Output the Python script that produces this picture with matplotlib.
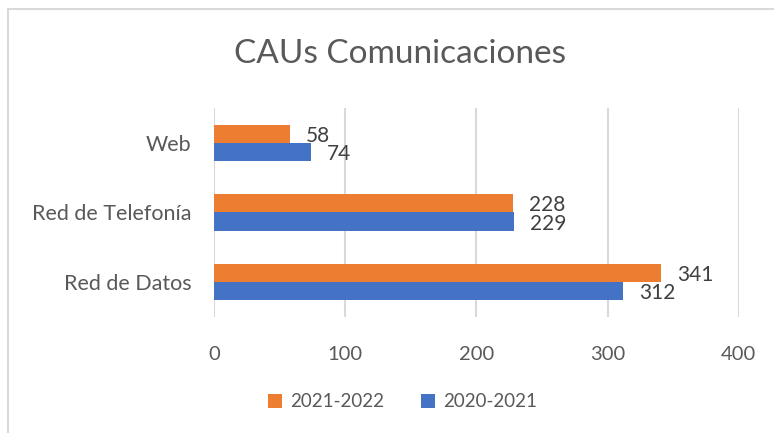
"""CAUs Comunicaciones: barras horizontales agrupadas por curso"""

import matplotlib

matplotlib.use("Agg")
import matplotlib.pyplot as plt
import numpy as np
from matplotlib.patches import Rectangle

categories = ["Red de Datos", "Red de Telefonía", "Web"]
series_2021_2022 = [341, 228, 58]
series_2020_2021 = [312, 229, 74]
legend_labels = ["2021-2022", "2020-2021"]
x_ticks = [0, 100, 200, 300, 400]

TEXT = "#595959"
ORANGE = "#ED7D31"
BLUE = "#4472C4"
GRID = "#D9D9D9"

plt.rcParams["font.family"] = ["Lato", "DejaVu Sans"]

fig = plt.figure(figsize=(7.74, 4.33), dpi=100)
ax = fig.add_axes([0.2765, 0.268, 0.678, 0.4826])

y = np.arange(len(categories))
height = 0.26
bars_new = ax.barh(y + height / 2, series_2021_2022, height=height, color=ORANGE, label=legend_labels[0], zorder=3)
bars_old = ax.barh(y - height / 2, series_2020_2021, height=height, color=BLUE, label=legend_labels[1], zorder=3)

for bars in (bars_new, bars_old):
    for bar in bars:
        value = bar.get_width()
        ax.annotate(
            f"{value:.0f}",
            (value, bar.get_y() + bar.get_height() / 2),
            xytext=(16, -2),
            textcoords="offset pixels",
            ha="left",
            va="center",
            fontsize=15,
            color="#404040",
        )

ax.set_xlim(0, 400)
ax.set_ylim(-0.5, 2.5)
ax.set_xticks(x_ticks)
ax.set_yticks(y)
ax.set_yticklabels(categories)
ax.tick_params(axis="both", length=0, labelsize=14.5, labelcolor=TEXT)
ax.tick_params(axis="x", pad=21)
ax.tick_params(axis="y", pad=16, labelsize=15.5)
ax.grid(axis="x", color=GRID, linewidth=1.5, zorder=0)
for spine in ax.spines.values():
    spine.set_visible(False)

fig.text(0.517, 0.875, "CAUs Comunicaciones", ha="center", va="center", fontsize=24, color=TEXT)

handles, labels = ax.get_legend_handles_labels()
fig.legend(
    handles,
    labels,
    loc="center",
    bbox_to_anchor=(0.52, 0.072),
    ncol=2,
    frameon=False,
    fontsize=13.5,
    labelcolor=TEXT,
    handlelength=0.75,
    handleheight=0.75,
    handletextpad=0.4,
    columnspacing=2.0,
)

fig.patches.append(
    Rectangle((8 / 774, -0.1), 1.2, 1.1 - 9 / 433, transform=fig.transFigure, fill=False, edgecolor=GRID, linewidth=1.5)
)

fig.savefig("out.png", dpi=100)
